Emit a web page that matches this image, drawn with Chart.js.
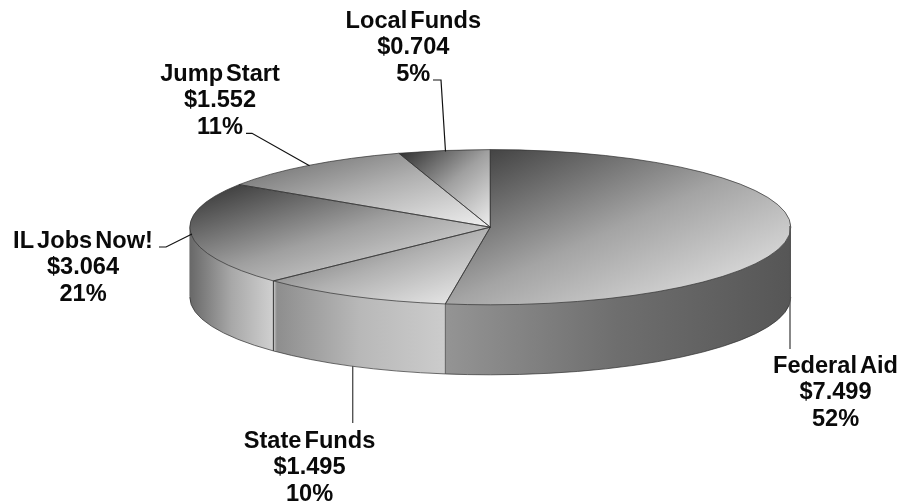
<!DOCTYPE html>
<html>
<head>
<meta charset="utf-8">
<style>html,body{margin:0;padding:0;background:#fff}canvas{display:block}</style>
<script src="https://cdn.jsdelivr.net/npm/chart.js@4"></script>
</head>
<body>
<canvas id="c" width="900" height="503"></canvas>
<script>
const categories = ['Federal Aid', 'State Funds', 'IL Jobs Now!', 'Jump Start', 'Local Funds'];
const amounts = [7.499, 1.495, 3.064, 1.552, 0.704];
const percents = [52, 10, 21, 11, 5];

// styling
const topStops = [['#353535', '#a4a4a4', '#eeeeee'], ['#606060', '#b0b0b0', '#f0f0f0'], ['#303030', '#a0a0a0', '#eeeeee'], ['#646464', '#b0b0b0', '#f0f0f0'], ['#2c2c2c', '#a0a0a0', '#eeeeee']];
const wallStops = [['#949494', '#6e6e6e', '#565656'], ['#8c8c8c', '#b8b8b8', '#cccccc'], ['#686868', '#a8a8a8', '#d0d0d0'], null, null];
const view = { cx: 490.3, cy: 227.2, rx: 300.5, ry: 77.6, depth: 70 };
const labelLayout = [
  { x: 835.5, y: 373, leader: [[790, 226], [790, 349]], color: '#555' },
  { x: 309.5, y: 448, leader: [[352.7, 366], [352.7, 423]], color: '#555' },
  { x: 83, y: 248, leader: [[159, 247], [166, 247], [192, 234]], color: '#111' },
  { x: 220, y: 81, leader: [[246, 133.3], [252, 133.3], [309.5, 165.7]], color: '#111' },
  { x: 413.3, y: 28, leader: [[433, 80], [441, 80], [445.5, 151.5]], color: '#111' }
];

function place(ctx, arc, dy) {
  const R = arc.outerRadius;
  ctx.translate(view.cx, view.cy + dy);
  ctx.scale(view.rx / R, view.ry / R);
  ctx.translate(-arc.x, -arc.y);
}
function sliceBox(arc) {
  const R = arc.outerRadius, s = arc.startAngle, e = arc.endAngle;
  const xs = [arc.x, arc.x + R * Math.cos(s), arc.x + R * Math.cos(e)];
  const ys = [arc.y, arc.y + R * Math.sin(s), arc.y + R * Math.sin(e)];
  for (let k = -4; k <= 8; k++) {
    const a = k * Math.PI / 2;
    if (a > s && a < e) { xs.push(arc.x + R * Math.cos(a)); ys.push(arc.y + R * Math.sin(a)); }
  }
  return { x0: Math.min(...xs), x1: Math.max(...xs), y0: Math.min(...ys), y1: Math.max(...ys) };
}
function topGradient(ctx, arc, stops) {
  const b = sliceBox(arc), W = b.x1 - b.x0, H = b.y1 - b.y0;
  const gx = 1 / (2 * W), gy = 1 / (2 * H), n = gx * gx + gy * gy;
  const g = ctx.createLinearGradient(b.x0, b.y0, b.x0 + gx / n, b.y0 + gy / n);
  stops.forEach((c, i) => g.addColorStop(i / (stops.length - 1), c));
  return g;
}
function wallGradient(ctx, arc, stops) {
  const R = arc.outerRadius;
  const s = Math.max(arc.startAngle, 0), e = Math.min(arc.endAngle, Math.PI);
  const xa = arc.x + R * Math.cos(s), xb = arc.x + R * Math.cos(e);
  const g = ctx.createLinearGradient(Math.min(xa, xb), 0, Math.max(xa, xb), 0);
  stops.forEach((c, i) => g.addColorStop(i / (stops.length - 1), c));
  return g;
}

const pie3d = {
  id: 'pie3d',
  beforeDatasetDraw(chart, args) {
    const ctx = chart.ctx, arcs = args.meta.data;
    for (let d = view.depth; d >= 1; d--) {
      arcs.forEach((arc, i) => {
        if (!wallStops[i]) return;
        ctx.save();
        place(ctx, arc, d);
        const saved = arc.options;
        arc.options = { ...saved, backgroundColor: wallGradient(ctx, arc, wallStops[i]) };
        arc.draw(ctx);
        arc.options = saved;
        ctx.restore();
      });
    }
    arcs.forEach((arc, i) => {
      arc.options = { ...arc.options, backgroundColor: topGradient(ctx, arc, topStops[i]) };
    });
    ctx.save();
    place(ctx, arcs[0], 0);
  },
  afterDatasetDraw(chart, args) {
    const ctx = chart.ctx, arcs = args.meta.data;
    ctx.restore();
    ctx.lineWidth = 1;
    ctx.strokeStyle = 'rgba(50,50,50,0.7)';
    arcs.forEach(arc => {
      ctx.save();
      place(ctx, arc, 0);
      ctx.beginPath();
      ctx.moveTo(arc.x, arc.y);
      ctx.arc(arc.x, arc.y, arc.outerRadius, arc.startAngle, arc.endAngle);
      ctx.closePath();
      ctx.restore();
      ctx.stroke();
      // wall seams and lower rim
      const s = Math.max(arc.startAngle, 0), e = Math.min(arc.endAngle, Math.PI);
      if (e > s) {
        ctx.save();
        place(ctx, arc, view.depth);
        ctx.beginPath();
        ctx.arc(arc.x, arc.y, arc.outerRadius, s, e);
        ctx.restore();
        ctx.stroke();
      }
      if (arc.endAngle > 0 && arc.endAngle < Math.PI) {
        const a = arc.endAngle;
        const px = view.cx + view.rx * Math.cos(a), py = view.cy + view.ry * Math.sin(a);
        ctx.beginPath();
        ctx.moveTo(px, py);
        ctx.lineTo(px, py + view.depth);
        ctx.stroke();
      }
      if (arc.startAngle < Math.PI && arc.endAngle > Math.PI) {
        const a = arc.startAngle;
        const px = view.cx + view.rx * Math.cos(a), py = view.cy + view.ry * Math.sin(a);
        ctx.beginPath();
        ctx.moveTo(px, py);
        ctx.lineTo(px, py + view.depth);
        ctx.stroke();
      }
    });
  },
  afterDraw(chart) {
    const ctx = chart.ctx;
    ctx.save();
    labelLayout.forEach((l, i) => {
      ctx.strokeStyle = l.color;
      ctx.lineWidth = i < 2 ? 1.4 : 1.2;
      ctx.beginPath();
      l.leader.forEach((p, k) => k ? ctx.lineTo(p[0], p[1]) : ctx.moveTo(p[0], p[1]));
      ctx.stroke();
      ctx.fillStyle = '#0a0a0a';
      ctx.font = 'bold 23.6px "Liberation Sans", Arial, sans-serif';
      ctx.textAlign = 'center';
      ctx.textBaseline = 'alphabetic';
      ctx.wordSpacing = '-3.5px';
      ctx.fillText(categories[i], l.x, l.y);
      ctx.wordSpacing = '0px';
      ctx.fillText('$' + amounts[i].toFixed(3), l.x, l.y + 26.3);
      ctx.fillText(percents[i] + '%', l.x, l.y + 52.6);
    });
    ctx.restore();
  }
};

new Chart(document.getElementById('c'), {
  type: 'pie',
  data: {
    labels: categories,
    datasets: [{ data: amounts, borderWidth: 0, clip: false, backgroundColor: '#999' }]
  },
  options: {
    responsive: false,
    animation: false,
    plugins: { legend: { display: false }, tooltip: { enabled: false } }
  },
  plugins: [pie3d]
});
</script>
</body>
</html>
